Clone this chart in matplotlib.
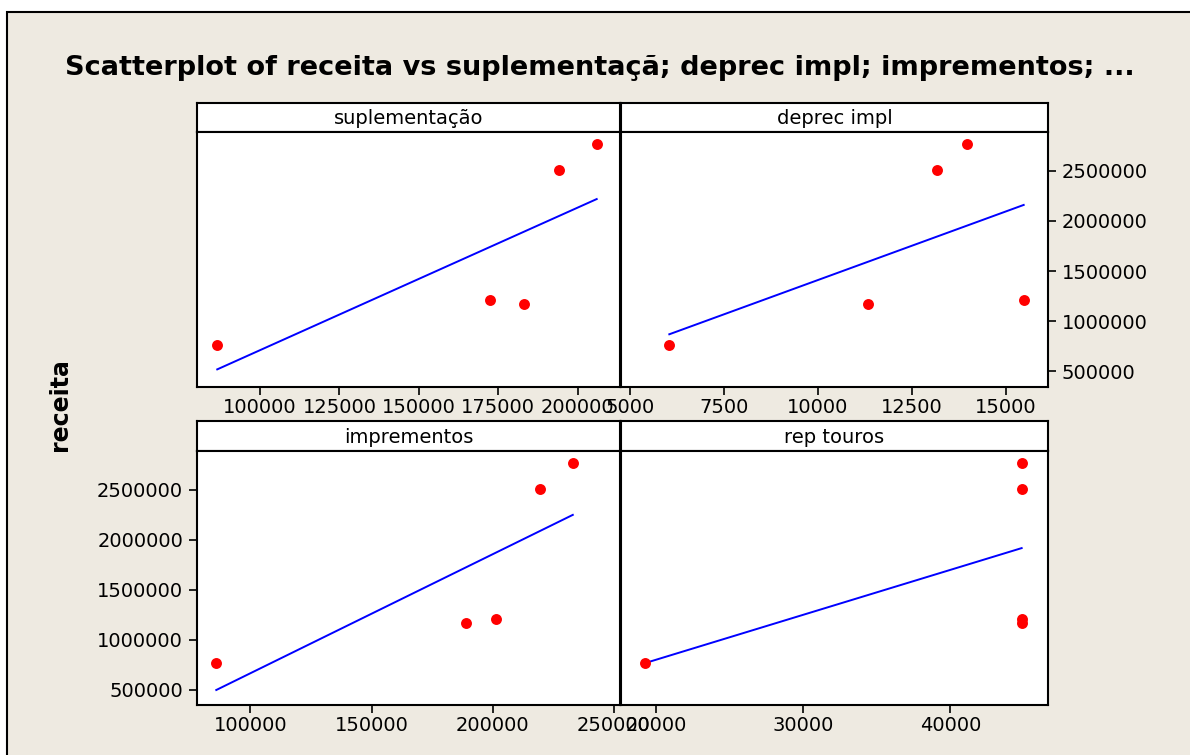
import numpy as np
import matplotlib.pyplot as plt
from matplotlib.patches import Rectangle

# dados
receita = [763000, 1210000, 1170000, 2510000, 2766000]
suplementacao = [86570, 172500, 182960, 194200, 205970]
deprec_impl = [6046, 15479, 11347, 13184, 13960]
imprementos = [85930, 201480, 188900, 219500, 233000]
rep_touros = [19230, 44850, 44850, 44850, 44850]

nomes = ['suplementação', 'deprec impl', 'imprementos', 'rep touros']
series = [suplementacao, deprec_impl, imprementos, rep_touros]
xticks = [[100000, 125000, 150000, 175000, 200000],
          [5000, 7500, 10000, 12500, 15000],
          [100000, 150000, 200000, 250000],
          [20000, 30000, 40000]]
xlims = [(80200, 213300), (4760, 16126), (77980, 252470), (17620, 46640)]
ylim = (345000, 2885000)
yticks = [500000, 1000000, 1500000, 2000000, 2500000]

W, H = 1190, 755
bege = '#EEEAE1'
fonte = 'DejaVu Sans'

fig = plt.figure(figsize=(W / 100, H / 100), dpi=100)
fig.patch.set_facecolor('white')
fig.patches.append(Rectangle((7 / W, -0.1), 1.2, 1 - 12 / H + 0.1,
                             transform=fig.transFigure, facecolor=bege,
                             edgecolor='black', linewidth=1.5, zorder=-1))


def caixa(x0, y0, x1, y1):
    return [x0 / W, 1 - y1 / H, (x1 - x0) / W, (y1 - y0) / H]


colunas = [(197, 620), (621, 1048)]
linhas = [(103, 132, 387), (421, 451, 705)]

for i, (nome, xs) in enumerate(zip(nomes, series)):
    r, c = i // 2, i % 2
    x0, x1 = colunas[c]
    s0, p0, p1 = linhas[r]

    cab = fig.add_axes(caixa(x0, s0, x1, p0))
    cab.set_xticks([])
    cab.set_yticks([])
    cab.text(0.5, 0.45, nome, ha='center', va='center', fontsize=14,
             family=fonte, transform=cab.transAxes)
    for sp in cab.spines.values():
        sp.set_linewidth(1.5)

    ax = fig.add_axes(caixa(x0, p0, x1, p1))
    for sp in ax.spines.values():
        sp.set_linewidth(1.5)
    ax.scatter(xs, receita, s=62, color='red', zorder=3, linewidths=0)
    a, b = np.polyfit(xs, receita, 1)
    xx = np.array([min(xs), max(xs)])
    ax.plot(xx, a * xx + b, color='blue', linewidth=1.4)
    ax.set_xlim(xlims[i])
    ax.set_ylim(ylim)
    ax.set_xticks(xticks[i])
    ax.set_xticklabels([str(t) for t in xticks[i]], family=fonte)
    ax.tick_params(axis='both', direction='out', length=6, width=1.2,
                   labelsize=14, pad=2)
    if i == 1:
        ax.yaxis.tick_right()
        ax.set_yticks(yticks)
        ax.set_yticklabels([str(t) for t in yticks], family=fonte)
        ax.tick_params(axis='y', pad=4)
    elif i == 2:
        ax.set_yticks(yticks)
        ax.set_yticklabels([str(t) for t in yticks], family=fonte)
        ax.tick_params(axis='y', pad=4)
    else:
        ax.set_yticks([])

fig.text(600 / W, 1 - 68 / H,
         'Scatterplot of receita vs suplementaçã; deprec impl; imprementos; ...',
         ha='center', va='center', fontsize=19.5, fontweight='bold', family=fonte)
fig.text(60 / W, 1 - 405 / H, 'receita', rotation=90, ha='center', va='center',
         fontsize=17, fontweight='bold', family=fonte)

fig.savefig('out.png', dpi=100, facecolor=fig.get_facecolor())
